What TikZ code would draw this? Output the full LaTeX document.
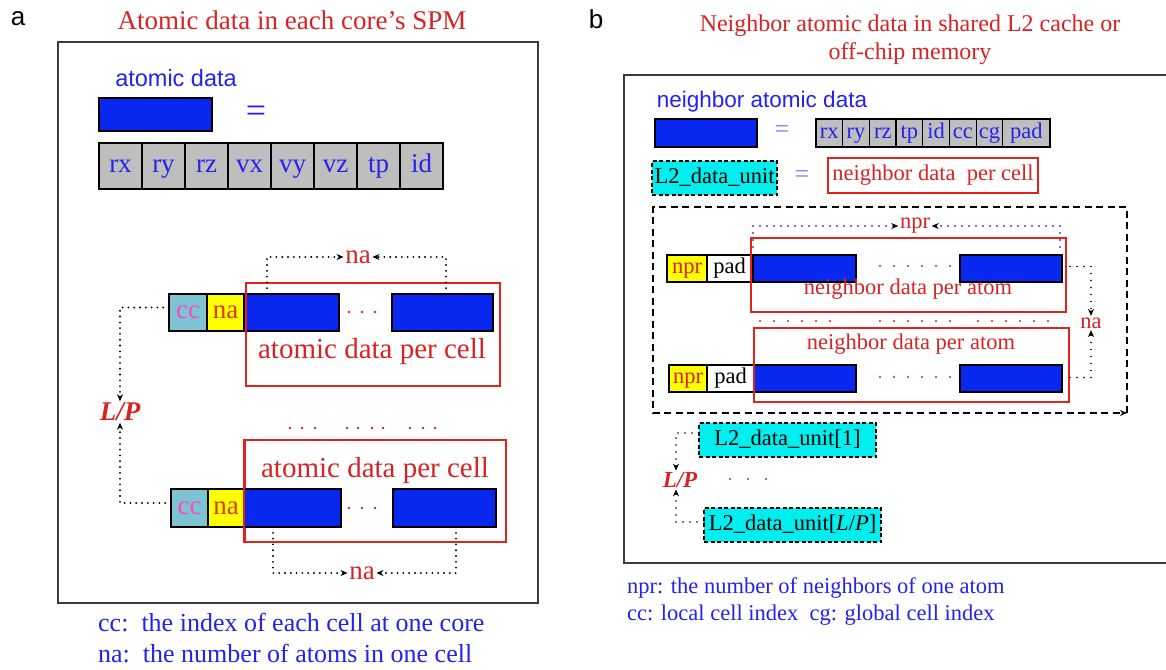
\documentclass[tikz,border=0pt]{standalone}
\usepackage{fontspec}
\setmainfont{Liberation Serif}
\setsansfont{Liberation Sans}
\usetikzlibrary{arrows.meta,calc}
\definecolor{atomblue}{RGB}{8,40,240}
\definecolor{txtblue}{RGB}{35,35,235}
\definecolor{lblue}{RGB}{110,130,250}
\definecolor{redtxt}{RGB}{215,35,35}
\definecolor{redline}{RGB}{225,35,30}
\definecolor{cellgray}{RGB}{190,190,190}
\definecolor{ccfill}{RGB}{125,195,210}
\definecolor{ccpink}{RGB}{255,70,200}
\definecolor{nayellow}{RGB}{255,255,0}
\definecolor{naorange}{RGB}{215,60,20}
\definecolor{cyanfill}{RGB}{0,238,238}
\definecolor{framegray}{RGB}{60,60,60}
\newcommand{\fsz}[1]{\fontsize{#1}{#1}\selectfont}
\begin{document}
\begin{tikzpicture}[x=1pt,y=-1pt,
  cellbox/.style={draw=black,line width=1.3pt,inner sep=0pt,outer sep=0pt},
  big/.style={font=\fsz{27},text height=18.4pt,text depth=6.2pt},
  small/.style={font=\fsz{22.5},text height=15.3pt,text depth=5.2pt},
  atom/.style={cellbox,fill=atomblue},
  gcell/.style={cellbox,fill=cellgray,text=txtblue},
  redframe/.style={draw=redline,line width=1.8pt,inner sep=0pt},
  l2box/.style={cellbox,fill=cyanfill,dash pattern=on 4pt off 2.5pt,line width=1.6pt},
  outerframe/.style={draw=framegray,line width=1.4pt},
  lbl/.style={inner sep=1.5pt},
  dotl/.style={line width=2.1pt,dash pattern=on 0pt off 5.8pt,line cap=round},
  dotr/.style={line width=1.6pt,dash pattern=on 0pt off 7pt,line cap=round},
  tipr/.style={-{Stealth[length=7pt,width=6pt]}},
  bigdash/.style={line width=1.7pt,dash pattern=on 7pt off 4.5pt},
  rdot/.style={fill=redtxt}
]
\useasboundingbox (0,0) rectangle (1166,669);
\fill[white] (0,0) rectangle (1166,669);

% ================= panel a =================
\node[font=\sffamily\fsz{26}] (pa) at (18,19) {a};
\node[font=\fsz{27},text=redtxt] (titleA) at (292,20) {Atomic data in each core's SPM};
\draw[outerframe] (58,42) rectangle (538,603);

\node[font=\sffamily\fsz{23.5},text=txtblue] (atomtxt) at (176,78) {atomic data};
\node[atom,minimum width=113,minimum height=33] (legA) at (155.5,114.5) {};
\node[font=\fsz{36},text=txtblue] (eqA) at (256,114) {=};
\foreach \t [count=\i from 0] in {rx,ry,rz,vx,vy,vz,tp,id}
  \node[gcell,big,minimum width=43,minimum height=46] (ga\i) at (120.5+43*\i,166) {\t};

% top cell row
\node[cellbox,big,fill=ccfill,text=ccpink,minimum width=38,minimum height=37] (ccA1) at (188,312.5) {cc};
\node[cellbox,big,fill=nayellow,text=naorange,minimum width=37,minimum height=37] (naboxA1) at (225.5,312.5) {na};
\node[atom,minimum width=95,minimum height=37] (blA1) at (291.5,312.5) {};
\node[atom,minimum width=101,minimum height=37] (blA2) at (442.5,312.5) {};
\foreach \x in {349,362,375} \fill[rdot] (\x,312) circle (1.3);
\node[redframe,minimum width=254,minimum height=103] (frA1) at (373,334.5) {};
\node[font=\fsz{29},text=redtxt] (txA1) at (372,352) {atomic data per cell};
\node[lbl,font=\fsz{27},text=redtxt] (naA1) at (358,257) {na};
\draw[dotl,tipr] ($(blA1.north west)+(23,0)$) |- (naA1.west);
\draw[dotl,tipr] ($(blA2.north west)+(54,0)$) |- (naA1.east);

% L/P
\node[lbl,font=\bfseries\itshape\fsz{27},text=redtxt] (LPa) at (120,412) {L/P};
\draw[dotl,tipr] ($(ccA1.west)+(0,-5)$) -| (LPa.north);

\foreach \x in {290,302,315,347,358,372,383,410,423,435} \fill[rdot] (\x,428) circle (1.3);

% bottom cell row
\node[redframe,minimum width=261,minimum height=102] (frA2) at (375.5,491) {};
\node[font=\fsz{29},text=redtxt] (txA2) at (375,471) {atomic data per cell};
\node[cellbox,big,fill=ccfill,text=ccpink,minimum width=37,minimum height=38] (ccA2) at (189.5,508) {cc};
\node[cellbox,big,fill=nayellow,text=naorange,minimum width=36,minimum height=38] (naboxA2) at (226,508) {na};
\node[atom,minimum width=97,minimum height=38] (blA3) at (292.5,508) {};
\node[atom,minimum width=103,minimum height=38] (blA4) at (444.5,508) {};
\draw[redline,line width=1.8pt] (frA2.north west) -- (frA2.south west);
\foreach \x in {349,362,375} \fill[rdot] (\x,508) circle (1.3);
\draw[dotl,tipr] ($(ccA2.west)+(0,-5)$) -| (LPa.south);
\node[lbl,font=\fsz{27},text=redtxt] (naA2) at (362,573) {na};
\draw[dotl,tipr] ($(blA3.south west)+(29,0)$) |- (naA2.west);
\draw[dotl,tipr] ($(blA4.south west)+(63,0)$) |- (naA2.east);

\node[anchor=west,font=\fsz{26},text=txtblue,inner sep=0pt] (fnA1) at (98,623) {cc:\ \ the index of each cell at one core};
\node[anchor=west,font=\fsz{26},text=txtblue,inner sep=0pt] (fnA2) at (98,654) {na:\ \ the number of atoms in one cell};

% ================= panel b =================
\node[font=\sffamily\fsz{26}] (pb) at (596,19) {b};
\node[font=\fsz{24},text=redtxt] (titleB1) at (910,26) {Neighbor atomic data in shared L2 cache or};
\node[font=\fsz{24},text=redtxt] (titleB2) at (910,54) {off-chip memory};
\draw[outerframe] (1172,75) -| (624,563) -- (1172,563);

\node[font=\sffamily\fsz{22.5},text=txtblue] (natxt) at (762,102) {neighbor atomic data};
\node[atom,minimum width=102,minimum height=28] (legB) at (706,133) {};
\node[font=\fsz{26},text=lblue] (eqB1) at (782,132) {=};
\foreach \t [count=\i from 0] in {rx,ry,rz,tp,id,cc,cg}
  \node[gcell,small,minimum width=26.7,minimum height=28] (gb\i) at (829.35+26.7*\i,133) {\t};
\node[gcell,small,minimum width=47.3,minimum height=28] (gbpad) at (1026.35,133) {pad};

\node[l2box,small,minimum width=125,minimum height=34] (L2u) at (714.5,178) {L2\_data\_unit};
\node[font=\fsz{26},text=lblue] (eqB2) at (802,177) {=};
\node[draw=redline,line width=1.6pt,minimum width=210,minimum height=35,inner sep=0pt,small,text=redtxt] (npc) at (933,175.5) {neighbor data\ \ per cell};

% big dashed region
\coordinate (dbTL) at (653,207);
\coordinate (dbBR) at (1127,413);
\draw[bigdash,tipr] (dbBR) |- (dbTL) -- (dbTL |- dbBR) -- (dbBR);

% atom row 1
\node[cellbox,small,fill=nayellow,text=redtxt,minimum width=40,minimum height=27] (nprB1) at (687,268.5) {npr};
\node[cellbox,small,fill=white,minimum width=45,minimum height=27] (padB1) at (729.5,268.5) {pad};
\node[atom,minimum width=103,minimum height=27] (blB1) at (804.5,268.5) {};
\node[atom,minimum width=102,minimum height=27] (blB2) at (1011,268.5) {};
\node[redframe,minimum width=315,minimum height=74] (frB1) at (908.5,275) {};
\node[font=\fsz{22.5},text=redtxt] (txB1) at (908,289) {neighbor data per atom};
\foreach \x in {880,894,908,922,936,950} \fill[rdot] (\x,266) circle (1.1);

\node[lbl,font=\fsz{22.5},text=redtxt] (nprL) at (915,226) {npr};
\draw[dotr,tipr] ($(blB1.north west)+(0,-8)$) |- (nprL.west);
\draw[dotr,tipr] ($(blB2.north east)+(-2,-8)$) |- (nprL.east);

\foreach \x in {760,774,788,802,816,830,880,894,908,922,936,950,978,992,1006,1020,1034,1048} \fill[rdot] (\x,321) circle (1.1);

% atom row 2
\node[cellbox,small,fill=nayellow,text=redtxt,minimum width=38,minimum height=27] (nprB2) at (688,378.5) {npr};
\node[cellbox,small,fill=white,minimum width=47,minimum height=27] (padB2) at (730.5,378.5) {pad};
\node[atom,minimum width=102,minimum height=27] (blB3) at (805,378.5) {};
\node[atom,minimum width=102,minimum height=27] (blB4) at (1011,378.5) {};
\node[redframe,minimum width=315,minimum height=74] (frB2) at (911.5,365) {};
\node[font=\fsz{22.5},text=redtxt] (txB2) at (911,344) {neighbor data per atom};
\foreach \x in {880,894,908,922,936,950} \fill[rdot] (\x,377) circle (1.1);

\node[lbl,font=\fsz{22.5},text=redtxt] (naB) at (1091,323) {na};
\draw[dotr,tipr] ($(blB2.east)+(8,-2)$) -| (naB.north);
\draw[dotr,tipr] ($(blB4.east)+(8,-1)$) -| (naB.south);

% L2 units
\node[l2box,small,minimum width=177,minimum height=34] (L2a) at (787.5,440) {L2\_data\_unit[1]};
\node[l2box,small,minimum width=177,minimum height=34] (L2b) at (792.5,525) {L2\_data\_unit[\textit{L}/\textit{P}]};
\node[lbl,font=\bfseries\itshape\fsz{23},text=redtxt] (LPb) at (680,480) {L/P};
\foreach \x in {730,748,766} \fill[rdot] (\x,479) circle (1.1);
\draw[dotr,tipr] ($(L2a.west)+(0,-7)$) -| ([xshift=-4pt]LPb.north);
\draw[dotr,tipr] ($(L2b.west)+(0,-3)$) -| ([xshift=-4pt]LPb.south);

\node[anchor=west,font=\fsz{22.5},text=txtblue,inner sep=0pt] (fnB1) at (627,588) {npr: the number of neighbors of one atom};
\node[anchor=west,font=\fsz{22.5},text=txtblue,inner sep=0pt] (fnB2) at (627,615) {cc: local cell index\ \ cg: global cell index};
\end{tikzpicture}
\end{document}
